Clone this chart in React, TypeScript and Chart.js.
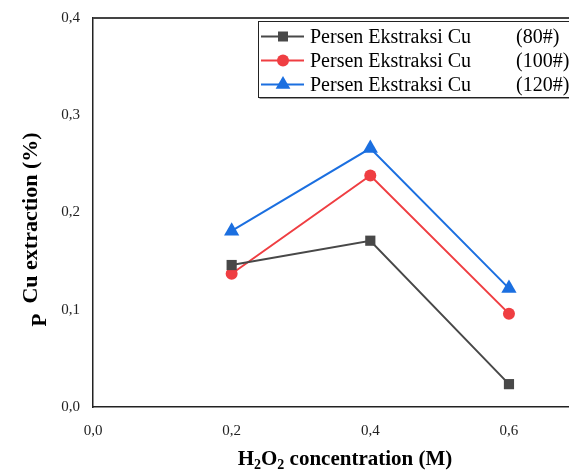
import React, { useEffect, useRef } from "react";
import { Chart, registerables } from "chart.js";

Chart.register(...registerables);

const concentrations = [0.2, 0.4, 0.6];
const cu80 = [0.146, 0.171, 0.0235];
const cu100 = [0.137, 0.238, 0.096];
const cu120 = [0.181, 0.266, 0.122];
const xTicks = [0, 0.2, 0.4, 0.6];
const yTicks = [0, 0.1, 0.2, 0.3, 0.4];
const seriesNames = ["Persen Ekstraksi Cu", "Persen Ekstraksi Cu", "Persen Ekstraksi Cu"];
const seriesMesh = ["(80#)", "(100#)", "(120#)"];
const xTitleParts = ["H", "2", "O", "2", " concentration (M)"];
const yTitle = "Cu extraction (%)";
const yExtra = "P";

const GRAY = "#484848";
const RED = "#ef3e42";
const BLUE = "#1b6fe0";
const SERIF = "'Liberation Serif', 'Times New Roman', serif";

function fmt(v: number) {
  return v.toFixed(1).replace(".", ",");
}

function drawMarker(ctx: CanvasRenderingContext2D, style: string, x: number, y: number, color: string) {
  ctx.save();
  ctx.fillStyle = color;
  ctx.beginPath();
  if (style === "rect") {
    ctx.rect(x - 5, y - 5, 10, 10);
  } else if (style === "circle") {
    ctx.arc(x, y, 6, 0, Math.PI * 2);
  } else {
    const r = 8.5;
    ctx.moveTo(x, y - r);
    ctx.lineTo(x + r * Math.sin((2 * Math.PI) / 3), y + r * 0.5);
    ctx.lineTo(x - r * Math.sin((2 * Math.PI) / 3), y + r * 0.5);
    ctx.closePath();
  }
  ctx.fill();
  ctx.restore();
}

const decorPlugin = {
  id: "decor",
  afterDraw(chart: any) {
    const ctx: CanvasRenderingContext2D = chart.ctx;
    const area = chart.chartArea;
    ctx.save();
    // top frame line
    ctx.strokeStyle = "#444";
    ctx.lineWidth = 2;
    ctx.beginPath();
    ctx.moveTo(area.left, area.top);
    ctx.lineTo(area.right + 2, area.top);
    ctx.stroke();

    // legend box
    const bx = 258.5, by = 21.5, bw = 320, bh = 76;
    ctx.fillStyle = "#fff";
    ctx.fillRect(bx, by, bw, bh);
    ctx.strokeStyle = "#999";
    ctx.lineWidth = 1;
    ctx.beginPath();
    ctx.moveTo(bx + 1, by + bh + 1);
    ctx.lineTo(bx + bw, by + bh + 1);
    ctx.stroke();
    ctx.strokeStyle = "#222";
    ctx.strokeRect(bx, by, bw, bh);

    const colors = [GRAY, RED, BLUE];
    const styles = ["rect", "circle", "triangle"];
    const rows = [36.5, 60.5, 84.5];
    ctx.font = "20px " + SERIF;
    ctx.textBaseline = "middle";
    ctx.textAlign = "left";
    for (let i = 0; i < 3; i++) {
      ctx.strokeStyle = colors[i];
      ctx.lineWidth = 2;
      ctx.beginPath();
      ctx.moveTo(261, rows[i]);
      ctx.lineTo(304, rows[i]);
      ctx.stroke();
      drawMarker(ctx, styles[i], 283, rows[i], colors[i]);
      ctx.fillStyle = "#000";
      ctx.fillText(seriesNames[i], 310, rows[i] + 1);
      ctx.fillText(seriesMesh[i], 516, rows[i] + 1);
    }

    // x title with subscripts
    ctx.fillStyle = "#000";
    ctx.textBaseline = "alphabetic";
    const big = "bold 21px " + SERIF;
    const small = "bold 14px " + SERIF;
    let total = 0;
    const widths: number[] = [];
    xTitleParts.forEach((p, i) => {
      ctx.font = i === 1 || i === 3 ? small : big;
      const w = ctx.measureText(p).width;
      widths.push(w);
      total += w;
    });
    let cx = 345 - total / 2;
    const baseY = 465;
    xTitleParts.forEach((p, i) => {
      const sub = i === 1 || i === 3;
      ctx.font = sub ? small : big;
      ctx.fillText(p, cx, sub ? baseY + 4 : baseY);
      cx += widths[i];
    });

    // y title
    ctx.save();
    ctx.translate(37, 218);
    ctx.rotate(-Math.PI / 2);
    ctx.font = "bold 22px " + SERIF;
    ctx.textAlign = "center";
    ctx.fillText(yTitle, 0, 0);
    ctx.restore();

    ctx.save();
    ctx.translate(46, 320);
    ctx.rotate(-Math.PI / 2);
    ctx.font = "bold 21px " + SERIF;
    ctx.textAlign = "center";
    ctx.fillText(yExtra, 0, 0);
    ctx.restore();

    ctx.restore();
  },
};

export default function App() {
  const ref = useRef<HTMLCanvasElement | null>(null);
  useEffect(() => {
    document.body.style.margin = "0";
    const toPts = (arr: number[]) => arr.map((y, i) => ({ x: concentrations[i], y }));
    const chart = new Chart(ref.current as HTMLCanvasElement, {
      type: "scatter",
      data: {
        datasets: [
          {
            label: seriesNames[0] + " " + seriesMesh[0],
            data: toPts(cu80),
            showLine: true,
            borderColor: GRAY,
            backgroundColor: GRAY,
            borderWidth: 2,
            pointStyle: "rect",
            pointRadius: 7.2,
            pointBorderWidth: 0,
          },
          {
            label: seriesNames[1] + " " + seriesMesh[1],
            data: toPts(cu100),
            showLine: true,
            borderColor: RED,
            backgroundColor: RED,
            borderWidth: 2,
            pointStyle: "circle",
            pointRadius: 6,
            pointBorderWidth: 0,
          },
          {
            label: seriesNames[2] + " " + seriesMesh[2],
            data: toPts(cu120),
            showLine: true,
            borderColor: BLUE,
            backgroundColor: BLUE,
            borderWidth: 2,
            pointStyle: "triangle",
            pointRadius: 8.8,
            pointBorderWidth: 0,
          },
        ],
      } as any,
      options: {
        animation: false,
        responsive: true,
        maintainAspectRatio: false,
        layout: { autoPadding: false, padding: { top: 18, right: 0, bottom: 0, left: 0 } },
        plugins: { legend: { display: false }, tooltip: { enabled: false } },
        scales: {
          x: {
            type: "linear",
            min: 0,
            max: 0.6866,
            grid: { display: false, drawTicks: false },
            border: { display: true, color: "#222", width: 1.5 },
            afterBuildTicks: (s: any) => {
              s.ticks = xTicks.map((v) => ({ value: v }));
            },
            afterFit: (s: any) => {
              s.height = 63;
              s.paddingLeft = 0;
              s.paddingRight = 0;
            },
            ticks: {
              padding: 15,
              color: "#222",
              font: { family: SERIF, size: 15 },
              callback: (v: any) => fmt(Number(v)),
            },
          },
          y: {
            type: "linear",
            min: 0,
            max: 0.4,
            grid: { display: false, drawTicks: false },
            border: { display: true, color: "#222", width: 1.5 },
            afterBuildTicks: (s: any) => {
              s.ticks = yTicks.map((v) => ({ value: v }));
            },
            afterFit: (s: any) => {
              s.width = 93;
              s.paddingTop = 0;
              s.paddingBottom = 0;
            },
            ticks: {
              padding: 13,
              color: "#222",
              font: { family: SERIF, size: 15 },
              callback: (v: any) => fmt(Number(v)),
            },
          },
        },
      } as any,
      plugins: [decorPlugin],
    });
    return () => chart.destroy();
  }, []);
  return (
    <div style={{ position: "relative", width: 569, height: 470 }}>
      <canvas ref={ref} />
    </div>
  );
}
